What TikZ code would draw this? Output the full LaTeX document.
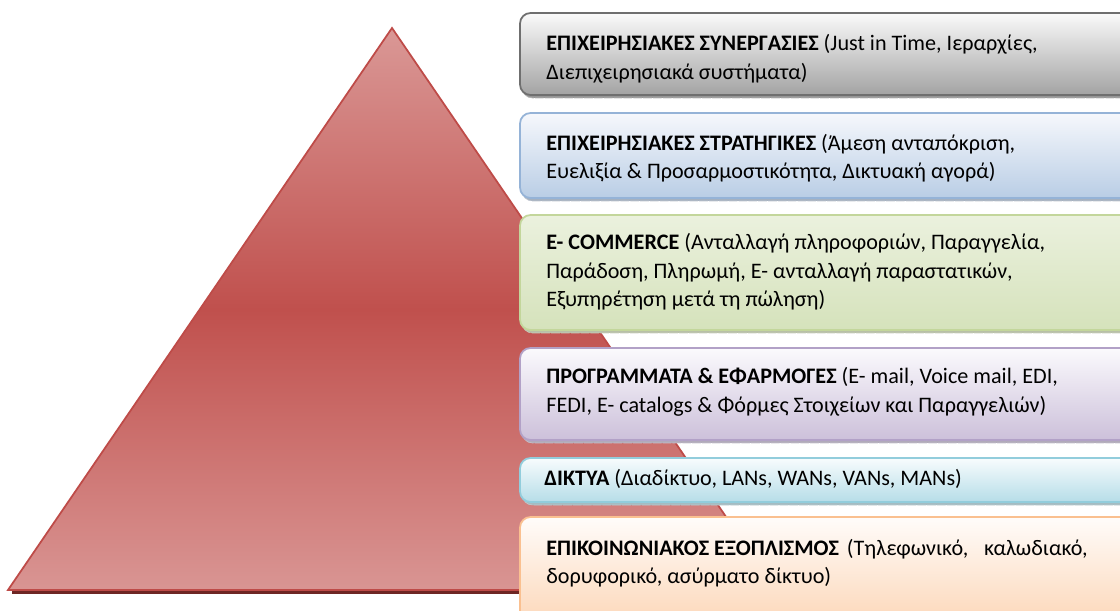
\documentclass[tikz,border=0pt]{standalone}
\usepackage{fontspec}
\setmainfont{Carlito}
\definecolor{tritop}{HTML}{DA9896}
\definecolor{trimid}{HTML}{C0504D}
\definecolor{tribot}{HTML}{D99593}
\definecolor{triline}{HTML}{BE4B48}
\definecolor{trishade}{HTML}{6E2624}
\definecolor{synline}{HTML}{6F6F6F}
\definecolor{syntop}{HTML}{FAFAFA}
\definecolor{synbot}{HTML}{A3A3A3}
\definecolor{strline}{HTML}{95B3D7}
\definecolor{strtop}{HTML}{F6F8FC}
\definecolor{strbot}{HTML}{B9CDE5}
\definecolor{comline}{HTML}{C3D69B}
\definecolor{comtop}{HTML}{EBF1DE}
\definecolor{combot}{HTML}{D5E2BB}
\definecolor{progline}{HTML}{B2A1C7}
\definecolor{progtop}{HTML}{FBFAFD}
\definecolor{progbot}{HTML}{CCC0DA}
\definecolor{netline}{HTML}{92CDDC}
\definecolor{nettop}{HTML}{F8FCFD}
\definecolor{netbot}{HTML}{B6DDE8}
\definecolor{equline}{HTML}{FAC090}
\definecolor{equtop}{HTML}{FFFCFA}
\definecolor{equbot}{HTML}{FCD5B5}
\tikzset{
  tier/.style={rounded corners=6pt, line width=1pt, draw=#1line, top color=#1top, bottom color=#1bot},
  tier shadow/.style={rounded corners=6pt, fill=#1line!70!black!60, draw=#1line!60!black!40, line width=0.4pt, dash pattern=on 5pt off 0.6pt},
  tier text/.style={anchor=west, align=left, inner sep=0pt, font=\fontsize{12.6}{16.2}\selectfont},
  tri edge/.style={draw=triline, line width=1pt, line join=miter}
}
\begin{document}
\begin{tikzpicture}[x=0.02cm,y=-0.02cm]
\useasboundingbox (0,0) rectangle (1120,611);
\clip (0,0) rectangle (1120,611);

% pyramid
\fill[trishade] (12,590) -- (780,590) -- (780,594) -- (12,594) -- cycle;
\shade[top color=tritop, bottom color=tribot, middle color=trimid] (392,28) -- (776,590) -- (8,590) -- cycle;
\draw[tri edge] (392,28) -- (776,590) -- (8,590) -- cycle;

% tiers, top to bottom
\fill[tier shadow=syn] (522,17) rectangle (1140,98);
\path[tier=syn] (520,13) rectangle (1140,95);
\fill[tier shadow=str] (522,117) rectangle (1140,201);
\path[tier=str] (520,113) rectangle (1140,198);
\fill[tier shadow=com] (522,219) rectangle (1140,333);
\path[tier=com] (520,215) rectangle (1140,330);
\fill[tier shadow=prog] (522,352) rectangle (1140,443);
\path[tier=prog] (520,348) rectangle (1140,440);
\fill[tier shadow=net] (522,462) rectangle (1140,505);
\path[tier=net] (520,458) rectangle (1140,502);
\path[tier=equ] (520,517) rectangle (1140,630);

% labels
\node[tier text] (syn) at (546,59) {\textbf{ΕΠΙΧΕΙΡΗΣΙΑΚΕΣ ΣΥΝΕΡΓΑΣΙΕΣ} (Just in Time, Ιεραρχίες,\\Διεπιχειρησιακά συστήματα)};
\node[tier text] (str) at (546,158) {\textbf{ΕΠΙΧΕΙΡΗΣΙΑΚΕΣ ΣΤΡΑΤΗΓΙΚΕΣ} (Άμεση ανταπόκριση,\\Ευελιξία \& Προσαρμοστικότητα, Δικτυακή αγορά)};
\node[tier text] (com) at (546,272) {\textbf{E- COMMERCE} (Ανταλλαγή πληροφοριών, Παραγγελία,\\Παράδοση, Πληρωμή, Ε- ανταλλαγή παραστατικών,\\Εξυπηρέτηση μετά τη πώληση)};
\node[tier text] (prog) at (546,392) {\textbf{ΠΡΟΓΡΑΜΜΑΤΑ \& ΕΦΑΡΜΟΓΕΣ} (E- mail, Voice mail, EDI,\\FEDI, E- catalogs \& Φόρμες Στοιχείων και Παραγγελιών)};
\node[tier text] (net) at (544,479) {\textbf{ΔΙΚΤΥΑ} (Διαδίκτυο, LANs, WANs, VANs, MANs)};
\node[tier text] (equ) at (546,563) {\textbf{ΕΠΙΚΟΙΝΩΝΙΑΚΟΣ ΕΞΟΠΛΙΣΜΟΣ}\hspace{4.5pt}(Τηλεφωνικό,\hspace{9pt}καλωδιακό,\\δορυφορικό, ασύρματο δίκτυο)};
\end{tikzpicture}
\end{document}
